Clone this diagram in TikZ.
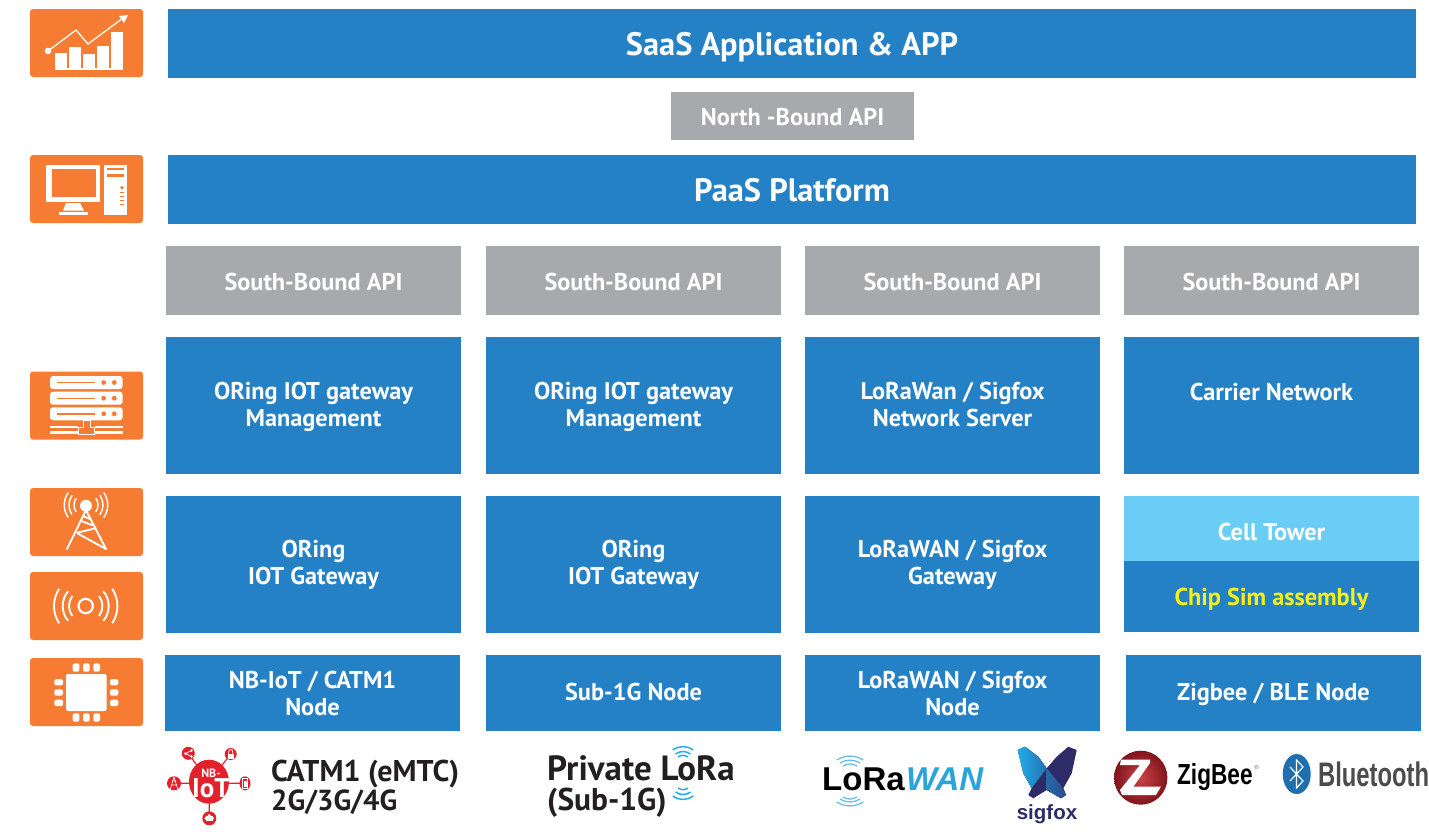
\documentclass[tikz,border=0pt]{standalone}
\usepackage{fontspec}
\setmainfont{PT Sans}
\newfontfamily\logofont{Liberation Sans}
\usetikzlibrary{positioning}
\definecolor{boxblue}{HTML}{2481C6}
\definecolor{apigray}{HTML}{A7A9AC}
\definecolor{iconorange}{HTML}{F57C32}
\definecolor{towerblue}{HTML}{69CDF6}
\definecolor{chipyellow}{HTML}{F2F01E}
\definecolor{darktext}{HTML}{231F20}
\definecolor{nbred}{HTML}{E4202C}
\definecolor{wifiblue}{HTML}{1FAEE9}
\definecolor{wanblue}{HTML}{2AA5D8}
\definecolor{sigdark}{HTML}{2E2C68}
\definecolor{zigred}{HTML}{C4202A}
\definecolor{btblue}{HTML}{1F6FAE}
\begin{document}
\begin{tikzpicture}[x=1pt,y=-1pt,on grid,
    bluebox/.style={rectangle,fill=boxblue,text=white,inner sep=0pt,align=center,
    minimum width=295pt,font=\fontsize{24.3}{26.5}\selectfont\bfseries},
    oneline/.style={text height=#1,text depth=0pt},
    graybox/.style={bluebox,fill=apigray,minimum height=69pt},
    wide/.style={bluebox,minimum width=1248pt,minimum height=69pt,oneline=23.6pt,font=\fontsize{32.4}{34}\selectfont\bfseries},
    iconbox/.style={rectangle,fill=iconorange,rounded corners=3pt,minimum width=113pt,minimum height=68pt,inner sep=0pt},
    sym/.style={draw=white,line width=1.3pt},
    logotext/.style={text=darktext,inner sep=0pt,anchor=base west,font=\fontsize{28}{30}\selectfont\bfseries},
    wave/.style={draw=wifiblue,line width=1.5pt},
    sat/.style={fill=nbred,draw=none}
    ]
    \useasboundingbox (0,0) rectangle (1429,831);

    \node[wide] (saas) at (792,43.5) {SaaS Application \& APP};
    \node[graybox,minimum width=243pt,minimum height=48pt,oneline=18.8pt] (nb) at (792.5,116) {North -Bound API};
    \node[wide] (paas) at (792,189.5) {PaaS Platform};

    \node[graybox,oneline=19.8pt] (sb1) at (313.5,280.5) {South-Bound API};
    \node[graybox,oneline=19.8pt] (sb2) [right = 320pt of sb1] {South-Bound API};
    \node[graybox,oneline=19.8pt] (sb3) [right = 319pt of sb2] {South-Bound API};
    \node[graybox,oneline=19.8pt] (sb4) [right = 319pt of sb3] {South-Bound API};

    \node[bluebox,minimum height=137pt,oneline=41.8pt] (mg1) [below = 125pt of sb1] {ORing IOT gateway\\Management};
    \node[bluebox,minimum height=137pt,oneline=41.8pt] (mg2) [below = 125pt of sb2] {ORing IOT gateway\\Management};
    \node[bluebox,minimum height=137pt,oneline=41.8pt] (mg3) [below = 125pt of sb3] {LoRaWan / Sigfox\\Network Server};
    \node[bluebox,minimum height=137pt,text height=20pt,text depth=30.2pt] (mg4) [below = 125pt of sb4] {Carrier Network};

    \node[bluebox,minimum height=137pt,oneline=39.8pt] (gw1) [below = 159pt of mg1] {ORing\\IOT Gateway};
    \node[bluebox,minimum height=137pt,oneline=39.8pt] (gw2) [below = 159pt of mg2] {ORing\\IOT Gateway};
    \node[bluebox,minimum height=137pt,oneline=39.8pt] (gw3) [below = 159pt of mg3] {LoRaWAN / Sigfox\\Gateway};
    \node[bluebox,fill=towerblue,minimum height=65pt,oneline=23.8pt] (ct) [below = 123pt of mg4] {Cell Tower};
    \node[bluebox,minimum height=71pt,text=chipyellow,oneline=17.8pt] (cs) [below = 68pt of ct] {Chip Sim assembly};

    \node[bluebox,minimum height=76pt,oneline=44.8pt] (nd1) at (312.5,693) {NB-IoT / CATM1\\Node};
    \node[bluebox,minimum height=76pt,oneline=14.8pt] (nd2) [right = 321pt of nd1] {Sub-1G Node};
    \node[bluebox,minimum height=76pt,oneline=44.8pt] (nd3) [right = 319pt of nd2] {LoRaWAN / Sigfox\\Node};
    \node[bluebox,minimum height=76pt,oneline=14.8pt] (nd4) [right = 321pt of nd3] {Zigbee / BLE Node};

    \node[iconbox] (ic1) at (86.5,43) {};
    \node[iconbox] (ic2) at (86.5,189) {};
    \node[iconbox] (ic3) at (86.5,405.5) {};
    \node[iconbox] (ic4) at (86.5,522) {};
    \node[iconbox] (ic5) at (86.5,606) {};
    \node[iconbox] (ic6) at (86.5,692) {};

    % chart
    \foreach \xa/\ya in {55/53,69/47,83/54,97/46,111/32}
      \fill[white] (\xa,\ya) rectangle ++(12,69.5-\ya);
    \fill[white] (55,67.5) rectangle (123,69.5);
    \fill[white] (48,51) circle[radius=3.3pt];
    \draw[sym] (48,51) -- (76,30) -- (88,44) -- (123,18);
    \fill[white] (119,16) -- (128,15) -- (124,23) -- cycle;

    % computer
    \fill[white] (46,164.5) rectangle (100,201.5);
    \fill[iconorange] (51.5,168.5) rectangle (96,196.5);
    \fill[white] (66,203) -- (80,203) -- (84,210.5) -- (63,210.5) -- cycle;
    \fill[white] (59,212) rectangle (88,215);
    \fill[white] (104,164.5) rectangle (126.5,215);
    \fill[iconorange] (107,167.7) rectangle (124,170);
    \fill[iconorange] (107,174) rectangle (124,176.7);
    \fill[iconorange] (122,187.7) circle[radius=1.9pt];
    \foreach \ya in {192,196,200,204}
      \fill[iconorange] (120,\ya) rectangle (123.5,\ya+1);

    % server
    \foreach \ya in {376,391.7,407.3}{
      \fill[white,rounded corners=3pt] (50,\ya) rectangle (122.7,\ya+13);
      \fill[iconorange] (56.7,\ya+5.8) rectangle (95,\ya+7.2);
      \fill[iconorange] (103.7,\ya+6.5) circle[radius=2.4pt];
      \fill[iconorange] (114.3,\ya+6.5) circle[radius=2.4pt];
    }
    \fill[white] (50,426) rectangle (78,428.3);
    \fill[white] (95,426) rectangle (122.7,428.3);
    \fill[white] (50,431.3) rectangle (78,433.7);
    \fill[white] (95,431.3) rectangle (122.7,433.7);
    \draw[white,line width=1pt] (78,427) -- (78,434.5) -- (94.5,434.5) -- (94.5,427) -- (90,427) -- (90,420) -- (83,420) -- (83,427) -- cycle;

    % tower
    \fill[white] (86,505.7) circle[radius=6pt];
    \draw[sym,line width=1.9pt,line cap=round] (86,510) -- (67,549) (86,510) -- (106,549) (77.3,533.3) -- (106,549)
      (77.3,532.7) -- (94.5,528.5) (81,521) -- (92,525) (83,516) -- (90,519);
    \foreach \rr/\aa in {12/35,17/35,21.7/35}{
      \draw[sym,line width=1.5pt] (86,505) ++(180-\aa:\rr pt) arc[start angle=180-\aa,end angle=180+\aa,radius=\rr pt];
      \draw[sym,line width=1.5pt] (86,505) ++(-\aa:\rr pt) arc[start angle=-\aa,end angle=\aa,radius=\rr pt];
    }

    % signal
    \draw[sym,line width=2.2pt] (85.7,606) circle[radius=7.2pt];
    \foreach \rr/\aa in {16.7/37,23/40,31.7/33}{
      \draw[sym,line width=1.9pt] (85.7,606) ++(180-\aa:\rr pt) arc[start angle=180-\aa,end angle=180+\aa,radius=\rr pt];
      \draw[sym,line width=1.9pt] (85.7,606) ++(-\aa:\rr pt) arc[start angle=-\aa,end angle=\aa,radius=\rr pt];
    }

    % chip
    \fill[white,rounded corners=2pt] (66,674) rectangle (106.7,711);
    \foreach \xa in {72.7,83,93.3}{
      \fill[white,rounded corners=1.5pt] (\xa,663.3) rectangle ++(6.7,8.4);
      \fill[white,rounded corners=1.5pt] (\xa,713.3) rectangle ++(6.7,8.4);
    }
    \foreach \ya in {679,689.3,699.7}{
      \fill[white,rounded corners=1.5pt] (54.3,\ya) rectangle ++(8.7,6.3);
      \fill[white,rounded corners=1.5pt] (110,\ya) rectangle ++(8.3,6.3);
    }

    % NB-IoT logo
    \draw[nbred,line width=1.2pt] (209,782) -- (188.3,753.3) (209,782) -- (230.7,754) (174,783.3) -- (245,783.3) (209.3,782) -- (209.3,818.3);
    \fill[nbred] (209,781.7) ellipse[x radius=20pt,y radius=22pt];
    \node[inner sep=0pt,text=white,font=\fontsize{12}{12}\selectfont\bfseries] (nbt) at (211,773) {NB-};
    \node[inner sep=0pt,text=white,font=\fontsize{27}{27}\selectfont\bfseries] (iot) at (211,788.5) {IoT};
    \fill[sat] (188.3,753.3) circle[radius=6.5pt];
    \fill[sat] (230.7,754) circle[radius=6pt];
    \fill[sat] (245,783.3) ellipse[x radius=5.5pt,y radius=7pt];
    \fill[sat] (209.3,818.3) circle[radius=7pt];
    \fill[sat] (174,783.3) circle[radius=7pt];
    \draw[white,line width=.7pt] (185.5,753.5) -- (191.5,750.5) (185.5,753.5) -- (191.5,756.5);
    \fill[white] (185.5,753.5) circle[radius=1.5pt] (191.5,750.5) circle[radius=1.3pt] (191.5,756.5) circle[radius=1.3pt];
    \fill[white] (227.5,754) rectangle (234,759);
    \draw[white,line width=.8pt] (228.8,754) -- (228.8,751.5) arc[start angle=180,end angle=0,radius=2pt] -- (232.8,754);
    \draw[white,line width=.8pt] (242.5,778.5) rectangle (247.5,788.5);
    \fill[white] (243.5,781) rectangle (246.5,787);
    \fill[white] (206,815.5) rectangle (212.5,821);
    \fill[white] (209.3,815.5) circle[radius=1.6pt] (206,818.3) circle[radius=1.6pt] (212.5,818.3) circle[radius=1.6pt];
    \draw[white,line width=.6pt] (174,777) -- (170,790) (174,777) -- (178,790) (171,785) -- (177,785) (172,781) -- (176,781);

    \node[logotext,font=\fontsize{30}{32}\selectfont\bfseries] (cat) at (271,781) {CATM1 (eMTC)};
    \node[logotext,font=\fontsize{29}{32}\selectfont\bfseries] (gen) at (271,810) {2G/3G/4G};

    % private lora
    \node[logotext,font=\fontsize{35}{37}\selectfont\bfseries] (prv) at (547,780.7) {Private LoRa};
    \node[logotext,font=\fontsize{31.5}{33}\selectfont\bfseries] (sub) at (547,810.5) {(Sub-1G)};
    \foreach \ww/\ya/\yb in {10.2/750/796,7.5/754/792,5/757/788}{
      \draw[wave] (683-\ww,\ya) to[bend left=35] (683+\ww,\ya);
      \draw[wave] (683-\ww,\yb) to[bend right=35] (683+\ww,\yb);
    }

    % lorawan
    \node[inner sep=0pt,anchor=base west,text=black,font=\logofont\fontsize{33}{33}\selectfont\bfseries] (lwa) at (822,790) {LoRa};
    \node[inner sep=0pt,anchor=base west,text=wanblue,font=\logofont\fontsize{33}{33}\selectfont\bfseries\itshape] (lwb) at (906,790) {WAN};
    \foreach \ww/\ya/\yb in {13.3/760/802,10/763/799,7/766/797}{
      \draw[wave,draw=wanblue!70,line width=1.3pt] (850-\ww,\ya) to[bend left=30] (850+\ww,\ya);
      \draw[wave,draw=wanblue!70,line width=1.3pt] (850-\ww,\yb) to[bend right=30] (850+\ww,\yb);
    }

    % sigfox
    \fill[left color=wifiblue,right color=boxblue!80!sigdark] (1017.7,750) -- (1025,746.7) -- (1038.3,756.7) -- (1046.7,768.3) -- (1031.7,788.3) -- (1023.3,773.3) -- cycle;
    \fill[sigdark] (1076.7,750) -- (1068.3,746.7) -- (1056.7,756.7) -- (1046.7,768.3) -- (1063.3,788.3) -- (1071.7,773.3) -- cycle;
    \fill[sigdark] (1046.7,768.3) -- (1031.7,788.3) -- (1028.3,795) -- (1033.3,798.3) -- (1046.7,790) -- cycle;
    \fill[left color=boxblue!70!sigdark,right color=sigdark!60!boxblue] (1046.7,768.3) -- (1063.3,788.3) -- (1066,795) -- (1061,798.3) -- (1046.7,790) -- cycle;
    \node[inner sep=0pt,anchor=base,text=sigdark,font=\logofont\fontsize{20.5}{22}\selectfont\bfseries] (sfx) at (1047,819) {sigfox};

    % zigbee
    \shade[inner color=zigred!85!white,outer color=zigred!65!black] (1140.7,777.7) ellipse[x radius=26.7pt,y radius=27pt];
    \fill[white] (1121,759.5) -- (1150,759.5) -- (1150,763) -- (1133.5,786.5) -- (1161,786.5) -- (1156,795) -- (1122,795) -- (1120,790) -- (1140,765) -- (1120,765) -- cycle;
    \node[inner sep=0pt,anchor=base west,text=black,xscale=.78,transform shape,font=\logofont\fontsize{29}{29}\selectfont\bfseries] (zig) at (1177,784) {ZigBee};
    \node[inner sep=0pt,text=black!60,font=\logofont\fontsize{6}{6}\selectfont] (reg) at (1256.5,767) {®};

    % bluetooth
    \fill[btblue] (1296.7,774) ellipse[x radius=14pt,y radius=20pt];
    \draw[white,line width=1.2pt] (1290,767) -- (1303,781) -- (1296.5,788) -- (1296.5,760) -- (1303,767) -- (1290,781);
    \node[inner sep=0pt,anchor=base west,text=black!70,xscale=.7,transform shape,font=\logofont\fontsize{34}{34}\selectfont\bfseries] (blt) at (1318,786) {Bluetooth};
\end{tikzpicture}
\end{document}
